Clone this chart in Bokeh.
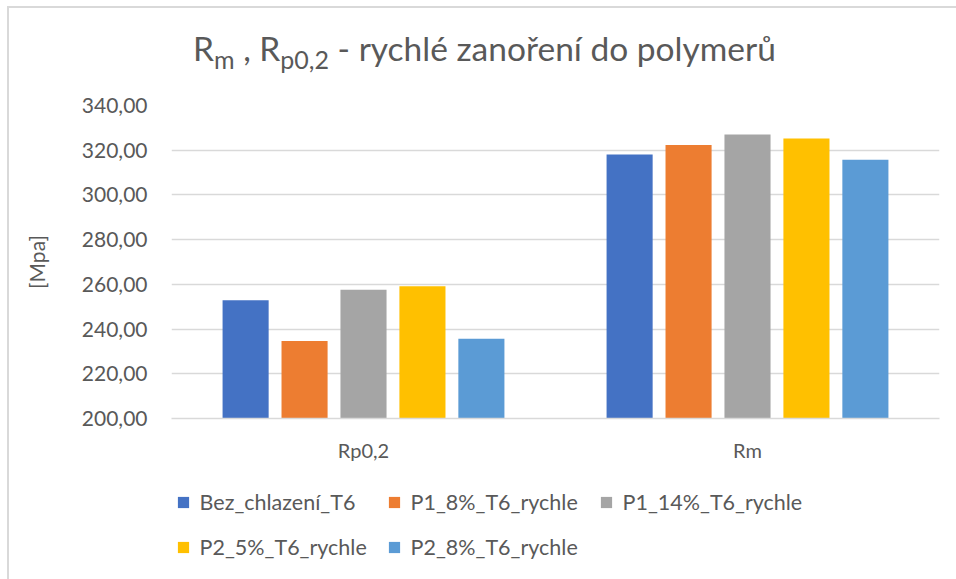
from bokeh.plotting import figure
from bokeh.models import (FactorRange, Range1d, Legend, LegendItem, Div,
                          FixedTicker, ColumnDataSource)
from bokeh.layouts import column
from bokeh.transform import dodge
from bokeh.embed import file_html
from bokeh.resources import INLINE

# ---- data ----
categories = ["Rp0,2", "Rm"]
series = ["Bez_chlazení_T6", "P1_8%_T6_rychle", "P1_14%_T6_rychle",
          "P2_5%_T6_rychle", "P2_8%_T6_rychle"]
bez_chlazeni = [252.9, 318.1]
p1_8 = [234.7, 322.3]
p1_14 = [257.6, 327.0]
p2_5 = [259.1, 325.2]
p2_8 = [235.7, 315.7]
y_ticks = [200, 220, 240, 260, 280, 300, 320, 340]
y_tick_labels = ["200,00", "220,00", "240,00", "260,00", "280,00",
                 "300,00", "320,00", "340,00"]

colors = ["#4472C4", "#ED7D31", "#A5A5A5", "#FFC000", "#5B9BD5"]
offsets = [-0.307, -0.1535, 0.0, 0.1535, 0.307]
FONT = "Lato"
TXT = "#595959"
GRID = "#D9D9D9"

keys = ["s0", "s1", "s2", "s3", "s4"]
source = ColumnDataSource(dict(cat=categories, s0=bez_chlazeni, s1=p1_8,
                               s2=p1_14, s3=p2_5, s4=p2_8))

# ---- main chart ----
p = figure(width=947, height=382, output_backend="svg", toolbar_location=None,
           x_range=FactorRange(factors=categories, range_padding=0),
           y_range=Range1d(200, 340),
           min_border_left=162, min_border_right=17,
           min_border_top=17, min_border_bottom=52)
p.outline_line_color = None
p.background_fill_color = "white"
p.border_fill_color = "white"

for k, c, off in zip(keys, colors, offsets):
    p.vbar(x=dodge("cat", off, range=p.x_range), top=k, bottom=200,
           width=0.12, source=source, fill_color=c, line_color=None)

p.xgrid.grid_line_color = None
p.ygrid.grid_line_color = GRID
p.ygrid.grid_line_width = 1.5
p.yaxis.ticker = FixedTicker(ticks=y_ticks)
p.yaxis.major_label_overrides = {t: l for t, l in zip(y_ticks, y_tick_labels)}
p.yaxis.axis_line_color = None
p.yaxis.major_tick_line_color = None
p.yaxis.minor_tick_line_color = None
p.yaxis.major_label_standoff = 18
p.yaxis.major_label_text_font = FONT
p.yaxis.major_label_text_font_size = "21px"
p.yaxis.major_label_text_color = TXT
p.yaxis.axis_label = "[Mpa]"
p.yaxis.axis_label_text_font = FONT
p.yaxis.axis_label_text_font_size = "21px"
p.yaxis.axis_label_text_font_style = "normal"
p.yaxis.axis_label_text_color = TXT
p.yaxis.axis_label_standoff = 30

p.xaxis.axis_line_color = GRID
p.xaxis.axis_line_width = 1.5
p.xaxis.major_tick_line_color = None
p.xaxis.minor_tick_line_color = None
p.xaxis.major_label_standoff = 13
p.xaxis.major_label_text_font = FONT
p.xaxis.major_label_text_font_size = "20px"
p.xaxis.major_label_text_color = TXT

# ---- legend strip (frame aligned with the chart frame by the column) ----
lf = figure(width=947, height=109, output_backend="svg", toolbar_location=None,
            x_range=Range1d(0, 1), y_range=Range1d(0, 1),
            x_axis_type=None, y_axis_type=None, min_border=0)
lf.outline_line_color = None
lf.xgrid.grid_line_color = None
lf.ygrid.grid_line_color = None
lf.background_fill_color = "white"
lf.border_fill_color = "white"

leg_pos = [(-2.4, 63), (208.6, 63), (420.6, 63), (-2.4, 18), (208.6, 18)]
for s, c, pos in zip(series, colors, leg_pos):
    # a single marker kept outside the visible range: only its legend swatch shows
    r = lf.scatter(x=[-10], y=[-10], marker="square", size=11,
                   fill_color=c, line_color=None)
    lf.add_layout(Legend(items=[LegendItem(label=s, renderers=[r])],
                         location=pos, orientation="horizontal",
                         glyph_width=28, glyph_height=28,
                         label_standoff=3, padding=0, margin=0, spacing=0,
                         border_line_color=None, background_fill_alpha=0,
                         label_text_font=FONT, label_text_font_size="21.5px",
                         label_text_color=TXT))

# ---- title with subscripts ----
sub = "font-size:25px;vertical-align:-8px"
title_html = (f'<div style="font-family:Lato;font-size:33.5px;color:{TXT};'
              'line-height:38px;padding:21px 0 0 184px;white-space:nowrap">'
              f'R<span style="{sub}">m</span> , R<span style="{sub}">p0,2</span>'
              ' - rychlé zanoření do polymerů</div>')
title = Div(text=title_html, width=947, height=80, margin=0)

layout = column(title, p, lf, margin=(6, 0, 0, 7), spacing=0,
                styles={"border-left": f"2px solid {GRID}",
                        "border-top": f"2px solid {GRID}",
                        "background-color": "white"})

open("out.html", "w").write(file_html(layout, INLINE))
